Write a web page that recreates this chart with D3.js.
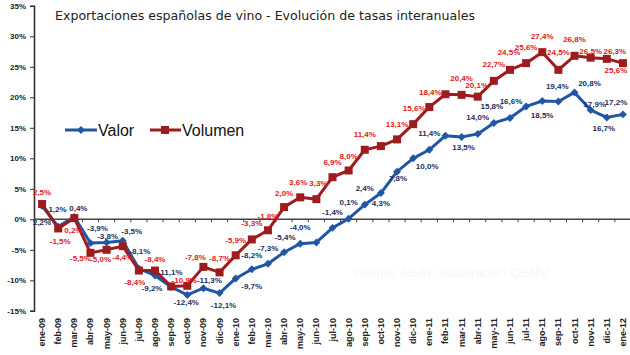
<!DOCTYPE html>
<html><head><meta charset="utf-8">
<script src="https://cdn.jsdelivr.net/npm/d3@7/dist/d3.min.js"></script>
<style>body{margin:0;background:#fff}svg{display:block}</style>
</head><body><svg id="c" width="630" height="355"></svg>
<script>
const months = ["ene-09","feb-09","mar-09","abr-09","may-09","jun-09","jul-09","ago-09","sep-09","oct-09","nov-09","dic-09",
"ene-10","feb-10","mar-10","abr-10","may-10","jun-10","jul-10","ago-10","sep-10","oct-10","nov-10","dic-10",
"ene-11","feb-11","mar-11","abr-11","may-11","jun-11","jul-11","ago-11","sep-11","oct-11","nov-11","dic-11","ene-12"];
const valor = [2.2,-1.2,0.4,-3.9,-3.8,-3.5,-8.1,-9.2,-11.1,-12.4,-11.3,-12.1,
-9.7,-8.2,-7.3,-5.4,-4.0,-3.8,-1.4,0.1,2.4,4.3,7.8,10.0,
11.4,13.7,13.5,14.0,15.8,16.6,18.5,19.4,19.3,20.8,17.9,16.7,17.2];
const volumen = [2.5,-1.5,0.2,-5.5,-5.0,-4.4,-8.4,-8.4,-11.0,-10.9,-7.8,-8.7,
-5.9,-3.3,-1.8,2.0,3.6,3.3,6.9,8.0,11.4,12.0,13.1,15.6,
18.4,20.5,20.4,20.1,22.7,24.5,25.6,27.4,24.5,26.8,26.5,26.3,25.6];
const yTicks = [-15,-10,-5,0,5,10,15,20,25,30,35];
const seriesNames = ["Valor","Volumen"];
const title = "Exportaciones españolas de vino - Evolución de tasas interanuales";
const sourceNote = "Fuente: AEAT; elaboración OEMV";

// label placement (offset of label centre from its point), null = no label
const valorLabelPos = [[0,17],[-2,-17],[4,-8],[7,-15],[1,-6],[9,-9],[1,-17],[-3,13],[-1,-15],[-1,8],[6,-8],[4,12],
[16,8],[0,-14],[0,-15],[1,-15],[0,-16],null,[0,-15],[0,-16],[0,-16],[0,10],[1,7],[14,8],
[0,-16],null,[2,11],[0,-16],[-2,-16],[1,-17],[16,9],[15,-14],null,[15,-9],[4,-6],[-3,11],[-7,-12]];
const volumenLabelPos = [[0,-12],[2,13],[-1,12],[-10,6],[-6,10],[0,11],[-4,12],[0,-11],null,[-3,-5],[-8,-9],[0,-14],
[0,-15],[0,-16],[0,-14],[0,-14],[-2,-15],[2,-16],[0,-15],[0,-14],[0,-15],null,[0,-15],[1,-16],
[1,-15],null,[0,-16],[-1,-11],[0,-16],[-1,-17],[0,-16],[0,-16],[0,-17],[0,-16],[0,-6],[8,-7],[-7,7]];

const loc = d3.formatLocale({decimal:",",thousands:".",grouping:[3],currency:["","€"],minus:"-"});
const fLab = v => loc.format(".1f")(v) + "%";
const fTick = v => loc.format("d")(v) + "%";

const svg = d3.select("#c");
const x = d3.scaleBand().domain(months).range([34,631]).padding(0);
const cx = m => x(m) + x.bandwidth()/2;
const y = d3.scaleLinear().domain([-15,35]).range([310.8,5.8]);

const blue = "#2156a5", blueTxt = "#1c2f5e", red = "#9e1b1e", redTxt = "#e3171c";

// title
svg.append("text").attr("x",55).attr("y",20).attr("textLength",420).attr("lengthAdjust","spacingAndGlyphs")
  .style("font-family","DejaVu Sans").style("font-size","12px").attr("fill","#222").text(title);

// watermark
svg.append("text").attr("x",451).attr("y",277).attr("text-anchor","middle")
  .style("font-family","Liberation Sans").style("font-size","13px").attr("fill","#f7f7f7").text(sourceNote);

// y axis
const yAx = svg.append("g").attr("transform","translate(34,0)")
  .call(d3.axisLeft(y).tickValues(yTicks).tickFormat(fTick).tickSize(4).tickPadding(4));
yAx.select(".domain").attr("stroke","#333").attr("stroke-width",1.6);
yAx.selectAll(".tick line").attr("stroke","#333");
yAx.selectAll(".tick text").style("font-family","Liberation Sans").style("font-size","8px")
  .style("font-weight","bold").attr("fill","#222");

// x axis on zero line, ticks between categories
const xg = svg.append("g");
xg.append("line").attr("x1",34).attr("x2",631).attr("y1",y(0)).attr("y2",y(0))
  .attr("stroke","#444").attr("stroke-width",1.4);
xg.selectAll("line.t").data(months.concat(["_end"])).join("line").attr("class","t")
  .attr("x1",(d,i)=>34 + i*x.bandwidth()).attr("x2",(d,i)=>34 + i*x.bandwidth())
  .attr("y1",y(0)).attr("y2",y(0)+3).attr("stroke","#444");
xg.selectAll("text").data(months).join("text")
  .attr("transform",d=>`translate(${cx(d)},318) rotate(-90)`)
  .attr("text-anchor","end").attr("dominant-baseline","central")
  .style("font-family","Liberation Sans").style("font-size","9px").style("font-weight","bold")
  .attr("fill","#222").text(d=>d);

// lines
const line = vals => d3.line().x((d,i)=>cx(months[i])).y(d=>y(d))(vals);
svg.append("path").attr("d",line(valor)).attr("fill","none").attr("stroke",blue).attr("stroke-width",3).attr("stroke-linejoin","round");
svg.selectAll("path.dm").data(valor).join("path").attr("class","dm")
  .attr("d",d3.symbol(d3.symbolDiamond2,40)())
  .attr("transform",(d,i)=>`translate(${cx(months[i])},${y(d)})`).attr("fill",blue);
svg.append("path").attr("d",line(volumen)).attr("fill","none").attr("stroke",red).attr("stroke-width",3).attr("stroke-linejoin","round");
svg.selectAll("rect.sq").data(volumen).join("rect").attr("class","sq")
  .attr("x",(d,i)=>cx(months[i])-4).attr("y",d=>y(d)-4).attr("width",8).attr("height",8).attr("fill",red);

// labels
function labels(vals,pos,col){
  svg.append("g").selectAll("text").data(vals.map((v,i)=>({v,i,p:pos[i]})).filter(d=>d.p))
    .join("text").attr("x",d=>cx(months[d.i])+d.p[0]).attr("y",d=>y(d.v)+d.p[1])
    .attr("text-anchor","middle").attr("dominant-baseline","central")
    .style("font-family","Liberation Sans").style("font-size","8px").style("font-weight","bold")
    .attr("fill",col).text(d=>fLab(d.v));
}
labels(valor,valorLabelPos,blueTxt);
labels(volumen,volumenLabelPos,redTxt);

// legend
const lg = svg.append("g");
lg.append("line").attr("x1",65).attr("x2",97).attr("y1",130).attr("y2",130).attr("stroke",blue).attr("stroke-width",3);
lg.append("path").attr("d",d3.symbol(d3.symbolDiamond2,40)()).attr("transform","translate(81,130)").attr("fill",blue);
lg.append("text").attr("x",98).attr("y",130).attr("dominant-baseline","central")
  .style("font-family","Liberation Sans").style("font-size","16px").attr("fill","#111").text(seriesNames[0]);
lg.append("line").attr("x1",150).attr("x2",181).attr("y1",130).attr("y2",130).attr("stroke",red).attr("stroke-width",3);
lg.append("rect").attr("x",161).attr("y",126).attr("width",8).attr("height",8).attr("fill",red);
lg.append("text").attr("x",182).attr("y",130).attr("dominant-baseline","central")
  .style("font-family","Liberation Sans").style("font-size","16px").attr("fill","#111").text(seriesNames[1]);
</script></body></html>
